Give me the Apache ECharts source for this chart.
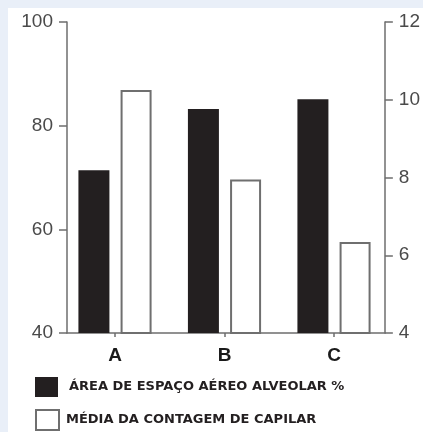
<!DOCTYPE html>
<html>
<head>
<meta charset="utf-8">
<script src="https://cdn.jsdelivr.net/npm/echarts@6/dist/echarts.min.js"></script>
<style>
html,body{margin:0;padding:0;background:#e9eff8;width:423px;height:432px;overflow:hidden;}
#c{position:absolute;left:8px;top:8px;width:415px;height:424px;background:#ffffff;}
</style>
</head>
<body>
<div id="c"></div>
<script>
const categories = ['A', 'B', 'C'];
const seriesNames = ['ÁREA DE ESPAÇO AÉREO ALVEOLAR %', 'MÉDIA DA CONTAGEM DE CAPILAR'];
const areaValues = [71.4, 83.2, 85.1];
const capilarValues = [10.25, 7.95, 6.34];
const leftTicks = [40, 60, 80, 100];
const rightTicks = [4, 6, 8, 10, 12];

const axisGray = '#6e6e6e';
const labelGray = '#4a4a4a';

const chart = echarts.init(document.getElementById('c'), null, {renderer: 'canvas'});
const option = {
  animation: false,
  grid: [
    {left: 59, right: 38, top: 14, bottom: 99},
    {left: 52.25, right: 34.25, top: 14, bottom: 99}
  ],
  xAxis: [
    {gridIndex: 0, type: 'category', data: categories,
     axisLine: {show: true, lineStyle: {color: axisGray, width: 1.5}},
     axisTick: {show: false}, axisLabel: {show: false}},
    {gridIndex: 1, type: 'category', data: categories,
     axisLine: {show: false},
     axisTick: {show: true, alignWithLabel: true, length: 4, lineStyle: {color: axisGray, width: 1.5}},
     axisLabel: {show: true, margin: 13, fontSize: 19, fontWeight: 'bold', color: '#1a1a1a', fontFamily: 'Liberation Sans'}}
  ],
  yAxis: [
    {gridIndex: 0, type: 'value', position: 'left', min: leftTicks[0], max: leftTicks[leftTicks.length-1], interval: 20,
     axisLine: {show: true, lineStyle: {color: axisGray, width: 1.5}},
     axisTick: {show: true, length: 8, lineStyle: {color: axisGray, width: 1.5}},
     axisLabel: {margin: 14, fontSize: 19, color: labelGray, fontFamily: 'Liberation Sans'},
     splitLine: {show: false}},
    {gridIndex: 0, type: 'value', position: 'right', min: rightTicks[0], max: rightTicks[rightTicks.length-1], interval: 2,
     axisLine: {show: true, lineStyle: {color: axisGray, width: 1.5}},
     axisTick: {show: true, length: 8, lineStyle: {color: axisGray, width: 1.5}},
     axisLabel: {margin: 14, fontSize: 19, color: labelGray, fontFamily: 'Liberation Sans'},
     splitLine: {show: false}},
    {gridIndex: 1, type: 'value', min: leftTicks[0], max: leftTicks[leftTicks.length-1], show: false, splitLine: {show: false}},
    {gridIndex: 1, type: 'value', min: rightTicks[0], max: rightTicks[rightTicks.length-1], show: false, splitLine: {show: false}}
  ],
  legend: [
    {data: [seriesNames[0]], orient: 'vertical', left: 27, top: 369, padding: 0,
     itemWidth: 23, itemHeight: 20, icon: 'rect',
     textStyle: {fontFamily: 'DejaVu Sans', fontWeight: 'bold', fontSize: 13, color: '#231f20', padding: [0, 0, 0, 6]}},
    {data: [seriesNames[1]], orient: 'vertical', left: 27, top: 401, padding: 0,
     itemWidth: 23, itemHeight: 20, icon: 'rect',
     textStyle: {fontFamily: 'DejaVu Sans', fontWeight: 'bold', fontSize: 13, color: '#231f20', padding: [0, 0, 0, 2]}}
  ],
  series: [
    {name: seriesNames[0], type: 'bar', xAxisIndex: 1, yAxisIndex: 2, data: areaValues,
     barWidth: 31, barGap: '36%',
     itemStyle: {color: '#231f20', borderColor: '#231f20', borderWidth: 0}},
    {name: seriesNames[1], type: 'bar', xAxisIndex: 1, yAxisIndex: 3, data: capilarValues,
     barWidth: 31, barGap: '36%',
     itemStyle: {color: '#ffffff', borderColor: '#6f6f6f', borderWidth: 2}}
  ]
};
chart.setOption(option);
</script>
</body>
</html>
